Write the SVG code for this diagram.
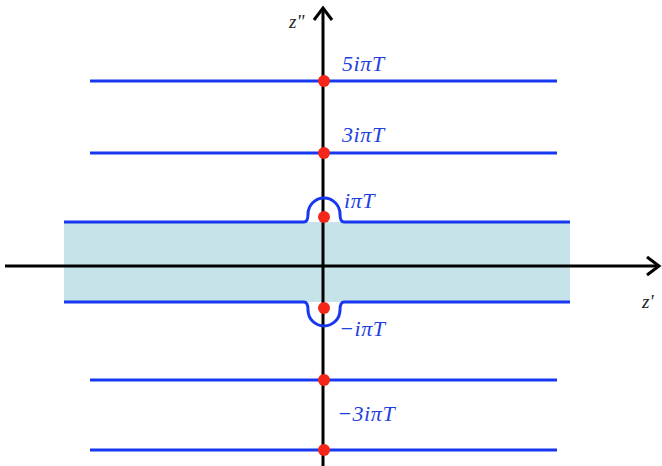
<svg xmlns="http://www.w3.org/2000/svg" width="662" height="466" viewBox="0 0 662 466">
<style>
.bl{stroke:#1738f0;stroke-width:3;fill:none}
.ax{stroke:#000;stroke-width:3;fill:none}
.dot{fill:#f5261a}
.lb{font-family:"Liberation Serif",serif;font-style:italic;font-size:22px;letter-spacing:0.6px;fill:#1f3fe0}
.al{font-family:"Liberation Serif",serif;font-size:19px;fill:#222}
</style>
<rect id="band" x="64" y="222" width="506" height="80" fill="#c5e3e9"/>
<g id="connectors">
<line class="ax" x1="5" y1="266" x2="658" y2="266"/>
<polyline class="ax" points="647,257 659,266 647,275"/>
<line class="ax" x1="323" y1="466" x2="323" y2="8"/>
<polyline class="ax" points="314,20 323,8 332,20"/>
</g>
<g id="line5"><line class="bl" x1="90" y1="81" x2="557" y2="81"/></g>
<g id="line3"><line class="bl" x1="90" y1="153" x2="557" y2="153"/></g>
<g id="line1"><path class="bl" d="M64,222 H304 Q308,222 308,214 A16,16 0 0 1 340,214 Q340,222 344,222 H570"/></g>
<g id="linem1"><path class="bl" d="M64,302 H304 Q308,302 308,310 A16,16 0 0 0 340,310 Q340,302 344,302 H570"/></g>
<g id="linem3"><line class="bl" x1="90" y1="380" x2="557" y2="380"/></g>
<g id="linem5"><line class="bl" x1="90" y1="450" x2="557" y2="450"/></g>
<g id="dots">
<circle class="dot" cx="324" cy="81" r="6"/>
<circle class="dot" cx="324" cy="153" r="6"/>
<circle class="dot" cx="324" cy="217" r="6"/>
<circle class="dot" cx="324" cy="308" r="6"/>
<circle class="dot" cx="324" cy="380" r="6"/>
<circle class="dot" cx="324" cy="450" r="6"/>
</g>
<g id="labels">
<text class="lb" x="342" y="71">5iπT</text>
<text class="lb" x="342" y="142">3iπT</text>
<text class="lb" x="344" y="208">iπT</text>
<text class="lb" x="339" y="336">−iπT</text>
<text class="lb" x="337" y="421">−3iπT</text>
<text class="al" x="289" y="28" font-style="italic">z"</text>
<text class="al" x="642" y="308" font-style="italic">z'</text>
</g>
</svg>
